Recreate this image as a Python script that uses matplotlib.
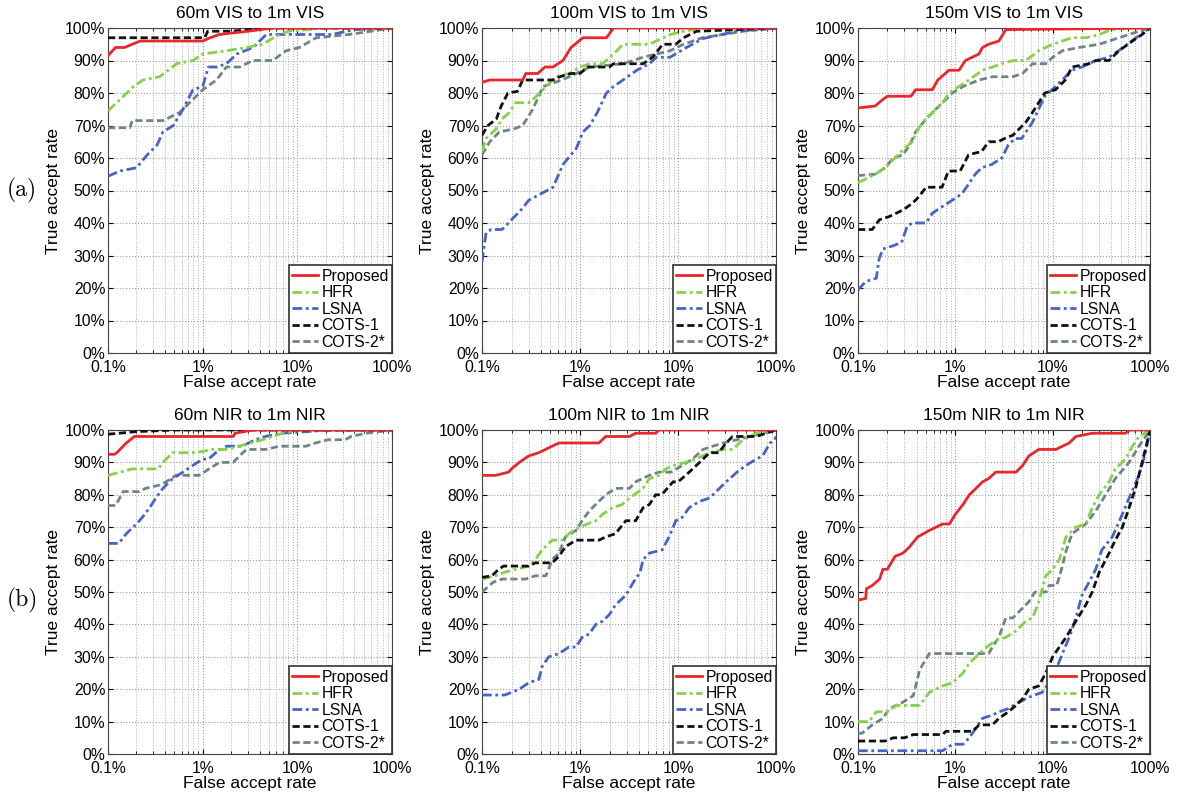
import matplotlib
matplotlib.use("Agg")
import matplotlib.pyplot as plt
from matplotlib.ticker import FixedLocator, LogLocator, NullFormatter

plt.rcParams['font.family'] = ['Liberation Sans', 'DejaVu Sans']

labels = ["Proposed", "HFR", "LSNA", "COTS-1", "COTS-2*"]
titles = ["60m VIS to 1m VIS", "100m VIS to 1m VIS", "150m VIS to 1m VIS",
          "60m NIR to 1m NIR", "100m NIR to 1m NIR", "150m NIR to 1m NIR"]

# ---- 60m VIS (FAR in %, TAR in %)
vis60_prop_x = [0.1, 0.12, 0.15, 0.18, 0.22, 1.0, 1.2, 1.5, 2.1, 3.0, 5.5, 100]
vis60_prop_y = [91.5, 94, 94, 95, 96, 96, 97, 98, 98.5, 99, 100, 100]
vis60_hfr_x = [0.1, 0.134, 0.186, 0.234, 0.35, 0.53, 0.79, 1.0, 1.78, 2.9, 4.3, 6, 8, 20, 100]
vis60_hfr_y = [74.5, 78, 82, 84, 85, 89, 90, 92, 93, 94, 95, 97.5, 99, 100, 100]
vis60_lsna_x = [0.1, 0.134, 0.2, 0.26, 0.33, 0.38, 0.49, 0.62, 0.79, 1.0, 1.15, 1.4, 1.78, 2.3, 3.4, 4.7, 23, 40, 100]
vis60_lsna_y = [54.4, 56, 57, 61, 64, 68, 70, 75, 81, 82, 88, 88, 89, 92, 94, 98, 98, 99.5, 100]
vis60_cots1_x = [0.1, 1.05, 1.13, 2.0, 4.7, 100]
vis60_cots1_y = [97, 97, 99, 99, 100, 100]
vis60_cots2_x = [0.1, 0.17, 0.18, 0.38, 0.57, 0.79, 1.0, 1.4, 1.78, 2.45, 3.4, 5.5, 7.6, 10.5, 15.8, 35, 60, 100]
vis60_cots2_y = [69.3, 69.3, 71.5, 71.5, 74, 78, 81, 84, 88, 88, 90, 90, 93, 94, 97, 98, 99, 100]

# ---- 100m VIS
vis100_prop_x = [0.1, 0.12, 0.26, 0.28, 0.37, 0.44, 0.53, 0.67, 0.81, 1.07, 1.86, 2.2, 100]
vis100_prop_y = [83.3, 84, 84, 86, 86, 88, 88, 90, 94, 97, 97, 100, 100]
vis100_hfr_x = [0.1, 0.11, 0.14, 0.16, 0.19, 0.22, 0.3, 0.36, 0.45, 0.57, 0.78, 1.0, 1.26, 1.7, 2.2, 2.75, 5.1, 6, 8.3, 11.4, 17.8, 100]
vis100_hfr_y = [62, 66, 69, 72, 74, 77, 77, 79, 82, 85, 86, 88, 89, 89, 92, 95, 95, 96, 98, 99, 100, 100]
vis100_lsna_x = [0.1, 0.11, 0.124, 0.16, 0.2, 0.25, 0.3, 0.4, 0.53, 0.67, 0.92, 1.07, 1.26, 1.5, 1.86, 2.2, 2.75, 3.8, 5.1, 6, 8.3, 11.4, 17.8, 25, 40, 100]
vis100_lsna_y = [28, 37, 38, 38, 41, 44, 47, 49, 51, 58, 63, 68, 70, 74, 80, 82, 84, 87, 89, 91, 91, 93.5, 96.7, 97.7, 99, 100]
vis100_cots1_x = [0.1, 0.115, 0.14, 0.157, 0.184, 0.23, 0.26, 0.53, 0.62, 0.81, 1.0, 1.2, 2.0, 2.2, 4.4, 5.5, 7.0, 9.5, 11.4, 15.5, 100]
vis100_cots1_y = [67, 70, 72, 76, 80, 80.5, 84, 84, 85, 86, 86, 88, 88, 89, 89, 91, 95, 95, 97, 99, 100]
vis100_cots2_x = [0.1, 0.12, 0.15, 0.215, 0.26, 0.33, 0.42, 0.53, 0.78, 1.26, 2.75, 4.4, 6, 8.3, 11.4, 17.8, 29, 46, 100]
vis100_cots2_y = [61, 65, 68, 69, 70, 75, 82, 83, 85, 88, 89, 91, 92, 93, 95, 97, 98, 99, 100]

# ---- 150m VIS
vis150_prop_x = [0.1, 0.15, 0.18, 0.2, 0.35, 0.39, 0.58, 0.66, 0.86, 1.09, 1.27, 1.49, 1.75, 1.9, 2.2, 2.8, 3.3, 100]
vis150_prop_y = [75.4, 76, 78, 79, 79, 81, 81, 84, 87, 87, 90, 91, 92, 94, 95, 96, 99.5, 100]
vis150_hfr_x = [0.1, 0.15, 0.19, 0.24, 0.3, 0.36, 0.4, 0.46, 0.58, 0.74, 0.86, 1.09, 1.38, 1.9, 2.4, 3.0, 3.9, 5.3, 7.2, 10, 15.8, 22, 30, 40, 66, 100]
vis150_hfr_y = [52.4, 55, 57, 60, 63, 65, 68, 71, 74, 77, 80, 82, 84, 87, 88, 89, 90, 90, 93, 95, 97, 97, 98, 99.5, 100, 100]
vis150_lsna_x = [0.1, 0.12, 0.154, 0.165, 0.18, 0.23, 0.28, 0.32, 0.36, 0.5, 0.58, 0.73, 0.93, 1.17, 1.37, 1.6, 1.86, 2.36, 3.0, 3.5, 4.1, 4.8, 6.2, 8.3, 10.7, 15.8, 20, 27.7, 38, 53, 72, 100]
vis150_lsna_y = [19.4, 22, 23, 29, 32, 33, 34, 39, 40, 40, 43, 45, 47, 49, 52, 55, 57, 58, 60, 64, 66, 66, 71, 79, 82, 87, 88, 90, 91, 94, 97, 100]
vis150_cots1_x = [0.1, 0.14, 0.166, 0.21, 0.29, 0.36, 0.42, 0.5, 0.73, 0.85, 1.12, 1.37, 1.86, 2.2, 2.75, 3.2, 3.9, 5.3, 6.2, 8.3, 10.7, 13.5, 15.8, 23.6, 27.7, 38, 48, 66, 83, 100]
vis150_cots1_y = [38, 38, 41, 42, 44, 46, 48, 51, 51, 56, 56, 61, 62, 65, 65, 66, 67, 71, 74, 80, 81, 84, 88, 89, 90, 90, 93, 96, 98, 100]
vis150_cots2_x = [0.1, 0.15, 0.19, 0.23, 0.29, 0.34, 0.39, 0.5, 0.63, 0.8, 0.93, 1.2, 1.75, 2.4, 3.9, 4.9, 6.2, 8.5, 10, 12.6, 18.6, 30, 48, 77, 100]
vis150_cots2_y = [54.6, 55, 57, 60, 61, 64, 68, 72, 75, 78, 80, 82, 84, 85, 85, 86, 89, 89, 91, 93, 94, 95, 97, 99, 100]

# ---- 60m NIR
nir60_prop_x = [0.1, 0.117, 0.124, 0.156, 0.19, 2.1, 2.2, 3.4, 100]
nir60_prop_y = [92.5, 92.5, 93, 96, 98, 98, 99, 100, 100]
nir60_hfr_x = [0.1, 0.18, 0.34, 0.38, 0.48, 0.85, 1.27, 1.76, 2.4, 4.3, 5.5, 6.9, 10.5, 100]
nir60_hfr_y = [86, 88, 88, 90, 93, 93, 94, 94, 95, 97, 98, 99, 100, 100]
nir60_lsna_x = [0.1, 0.13, 0.156, 0.2, 0.23, 0.275, 0.32, 0.38, 0.48, 0.62, 0.78, 1.0, 1.15, 1.38, 1.78, 2.6, 3.6, 4.6, 6.9, 23, 100]
nir60_lsna_y = [65, 65, 68, 71, 73, 76, 79, 82, 85, 87, 89, 91, 91, 93, 95, 95, 97, 98, 99, 100, 100]
nir60_cots1_x = [0.1, 0.13, 0.2, 0.5, 100]
nir60_cots1_y = [98.7, 99, 99.5, 100, 100]
nir60_cots2_x = [0.1, 0.12, 0.145, 0.215, 0.25, 0.35, 0.41, 0.52, 0.92, 1.17, 1.5, 2.1, 2.45, 2.9, 4.6, 6.5, 12.3, 15.6, 21, 32, 37, 53, 100]
nir60_cots2_y = [76.7, 76.7, 81, 81, 82, 83, 84, 86, 86, 88, 90, 90, 92, 94, 94, 95, 95, 96, 97, 97, 98, 99, 100]

# ---- 100m NIR
nir100_prop_x = [0.1, 0.137, 0.187, 0.2, 0.24, 0.3, 0.38, 0.52, 0.61, 1.56, 1.83, 3.2, 3.7, 5.9, 6.4, 100]
nir100_prop_y = [86, 86, 87, 88, 90, 92, 93, 95, 96, 96, 98, 98, 99, 99, 100, 100]
nir100_hfr_x = [0.1, 0.137, 0.166, 0.22, 0.3, 0.35, 0.41, 0.52, 0.66, 0.77, 0.98, 1.45, 1.7, 2.14, 2.7, 3.2, 4.4, 5.1, 6.4, 7.5, 8.9, 12, 15, 21, 29, 36, 46, 63, 100]
nir100_hfr_y = [54, 55, 56, 57, 58, 60, 63, 66, 66, 68, 70, 72, 74, 76, 77, 79, 82, 85, 86, 88, 89, 90, 91, 93, 94, 94, 97, 99, 100]
nir100_lsna_x = [0.1, 0.17, 0.2, 0.24, 0.3, 0.38, 0.41, 0.48, 0.61, 0.77, 0.91, 1.05, 1.24, 1.45, 1.7, 1.99, 2.3, 2.94, 3.5, 4.1, 4.4, 5.1, 6.9, 8.1, 9.5, 11, 13, 16.6, 21, 24.5, 31, 40, 49, 63, 73, 87, 97, 100]
nir100_lsna_y = [18.2, 18.2, 19, 20, 22, 23, 27, 30, 31, 33, 33, 36, 37, 40, 41, 43, 46, 49, 53, 56, 60, 62, 63, 67, 72, 73, 76, 78, 79, 81, 84, 87, 89, 91, 92, 96, 97, 98]
nir100_cots1_x = [0.1, 0.126, 0.148, 0.166, 0.3, 0.35, 0.52, 0.61, 0.71, 0.91, 1.56, 1.83, 2.3, 2.94, 3.7, 4.4, 5.1, 5.9, 6.8, 8.9, 10, 12, 16.6, 21, 26, 31, 36, 63, 79, 100]
nir100_cots1_y = [54.5, 55, 57, 58, 58, 59, 59, 61, 64, 66, 66, 67, 68, 72, 72, 76, 77, 80, 80, 84, 84, 86, 90, 93, 93, 96, 98, 98, 99, 100]
nir100_cots2_x = [0.1, 0.13, 0.16, 0.28, 0.35, 0.45, 0.52, 0.61, 0.71, 0.91, 1.05, 1.24, 1.56, 1.83, 2.3, 3.2, 3.7, 5.1, 6.4, 8.5, 11, 14, 18, 22.6, 29, 40, 54, 73, 100]
nir100_cots2_y = [50, 53, 54, 54, 55, 55, 60, 62, 67, 69, 72, 75, 78, 80, 82, 82, 84, 86, 87, 87, 89, 91, 94, 95, 96, 97, 98, 99, 100]

# ---- 150m NIR
nir150_prop_x = [0.1, 0.12, 0.122, 0.14, 0.167, 0.18, 0.2, 0.24, 0.29, 0.34, 0.41, 0.54, 0.74, 0.87, 1.0, 1.2, 1.39, 1.63, 1.9, 2.2, 2.6, 4.2, 4.9, 5.7, 7.2, 10.8, 12.6, 14.8, 17.3, 25.5, 56, 62, 100]
nir150_prop_y = [47.5, 48, 51, 52, 54, 57, 57, 61, 62, 64, 67, 69, 71, 71, 74, 77, 80, 82, 84, 85, 87, 87, 89, 92, 94, 94, 95, 96, 98, 99, 99, 100, 100]
nir150_hfr_x = [0.1, 0.13, 0.154, 0.195, 0.25, 0.43, 0.54, 0.74, 0.94, 1.2, 1.39, 1.76, 2.1, 2.6, 3.3, 4.2, 5.3, 6.2, 7.2, 8.5, 10, 11.7, 13.7, 17.3, 21.9, 25.5, 30, 38, 44, 56, 66, 77, 100]
nir150_hfr_y = [10, 10, 13, 13, 15, 15, 19, 21, 22, 25, 28, 31, 33, 35, 36, 38, 41, 42, 47, 55, 57, 60, 67, 70, 71, 76, 80, 84, 88, 91, 95, 98, 100]
nir150_lsna_x = [0.1, 0.74, 0.83, 0.94, 1.2, 1.39, 1.63, 1.9, 2.4, 2.8, 3.5, 4.5, 6.2, 7.8, 9.2, 10.8, 12.6, 14.8, 17.3, 20, 23.6, 27.7, 32, 41, 52, 61, 77, 90, 100]
nir150_lsna_y = [1, 1, 2, 3, 3, 5, 8, 11, 12, 13, 14, 16, 18, 19, 22, 26, 31, 36, 42, 49, 53, 57, 63, 67, 74, 79, 86, 93, 100]
nir150_cots1_x = [0.1, 0.19, 0.23, 0.3, 0.37, 0.74, 0.8, 1.5, 1.76, 2.4, 2.8, 3.5, 4.2, 4.9, 5.7, 7.2, 8.5, 10, 11.7, 13.7, 17.3, 21.9, 25.5, 30, 38, 44, 52, 61, 71, 83, 93, 100]
nir150_cots1_y = [4, 4, 5, 5, 6, 6, 7, 7, 9, 9, 11, 13, 15, 17, 20, 21, 25, 30, 33, 36, 41, 46, 50, 56, 62, 66, 70, 76, 82, 90, 96, 100]
nir150_cots2_x = [0.1, 0.11, 0.14, 0.18, 0.21, 0.29, 0.37, 0.43, 0.54, 2.2, 2.4, 2.8, 3.3, 3.9, 4.9, 5.7, 6.6, 8.5, 9.2, 11, 12.6, 13.5, 15.8, 21.9, 27.7, 35, 44, 61, 77, 100]
nir150_cots2_y = [6.4, 6.4, 9, 11, 14, 16, 18, 26, 31, 31, 33, 36, 42, 42, 45, 47, 50, 50, 52, 52, 58, 62, 68, 71, 75, 80, 85, 90, 95, 100]

panels = [
    [(vis60_prop_x, vis60_prop_y), (vis60_hfr_x, vis60_hfr_y), (vis60_lsna_x, vis60_lsna_y),
     (vis60_cots1_x, vis60_cots1_y), (vis60_cots2_x, vis60_cots2_y)],
    [(vis100_prop_x, vis100_prop_y), (vis100_hfr_x, vis100_hfr_y), (vis100_lsna_x, vis100_lsna_y),
     (vis100_cots1_x, vis100_cots1_y), (vis100_cots2_x, vis100_cots2_y)],
    [(vis150_prop_x, vis150_prop_y), (vis150_hfr_x, vis150_hfr_y), (vis150_lsna_x, vis150_lsna_y),
     (vis150_cots1_x, vis150_cots1_y), (vis150_cots2_x, vis150_cots2_y)],
    [(nir60_prop_x, nir60_prop_y), (nir60_hfr_x, nir60_hfr_y), (nir60_lsna_x, nir60_lsna_y),
     (nir60_cots1_x, nir60_cots1_y), (nir60_cots2_x, nir60_cots2_y)],
    [(nir100_prop_x, nir100_prop_y), (nir100_hfr_x, nir100_hfr_y), (nir100_lsna_x, nir100_lsna_y),
     (nir100_cots1_x, nir100_cots1_y), (nir100_cots2_x, nir100_cots2_y)],
    [(nir150_prop_x, nir150_prop_y), (nir150_hfr_x, nir150_hfr_y), (nir150_lsna_x, nir150_lsna_y),
     (nir150_cots1_x, nir150_cots1_y), (nir150_cots2_x, nir150_cots2_y)],
]

colors = ["#e8262b", "#86d14a", "#4764c4", "#111111", "#6f8585"]
styles = ["-", (0, (3.5, 1.3, 1, 1.3)), (0, (3.5, 1.3, 1, 1.3)), (0, (2.6, 1.3)), (0, (2.6, 1.3))]
zorders = [7, 5, 4, 6, 3]

# axes boxes in pixels: left, top, right, bottom
W, H = 1184, 792
col_x = [(108, 392), (482, 776), (858, 1150)]
row_y = [(28, 353), (430, 754)]

fig = plt.figure(figsize=(W / 100, H / 100), dpi=100)

for i, curves in enumerate(panels):
    r, c = divmod(i, 3)
    x0, x1 = col_x[c]
    y0, y1 = row_y[r]
    ax = fig.add_axes([x0 / W, 1 - y1 / H, (x1 - x0) / W, (y1 - y0) / H])
    for k, (xs, ys) in enumerate(curves):
        ax.plot(xs, ys, color=colors[k], linestyle=styles[k], lw=2.0,
                label=labels[k], zorder=zorders[k])
    ax.set_xscale("log")
    ax.set_xlim(0.1, 100)
    ax.set_ylim(0, 100)
    ax.xaxis.set_major_locator(FixedLocator([0.1, 1, 10, 100]))
    ax.set_xticklabels(["0.1%", "1%", "10%", "100%"])
    ax.xaxis.set_minor_locator(LogLocator(base=10, subs=range(2, 10)))
    ax.xaxis.set_minor_formatter(NullFormatter())
    ax.set_yticks(range(0, 101, 10))
    ax.set_yticklabels([f"{v}%" for v in range(0, 101, 10)])
    ax.grid(True, which="major", linestyle=":", color="#9a9a9a", lw=0.8)
    ax.grid(True, which="minor", axis="x", linestyle=":", color="#b0b0b0", lw=0.7)
    ax.tick_params(which="both", direction="in", top=True, right=True, labelsize=11.3)
    ax.tick_params(axis="y", pad=2)
    ax.tick_params(axis="x", pad=5)
    ax.tick_params(which="minor", length=2)
    for s in ax.spines.values():
        s.set_color("#444444")
    ax.set_title(titles[i], fontsize=12.5, pad=7)
    ax.set_xlabel("False accept rate", fontsize=12.5, labelpad=0)
    ax.set_ylabel("True accept rate", fontsize=12.5, labelpad=3)
    leg = ax.legend(loc="lower right", fontsize=11.3, borderaxespad=0, fancybox=False,
                    edgecolor="#333333", framealpha=1, borderpad=0.2, labelspacing=0.1,
                    handlelength=1.7, handletextpad=0.2)
    leg.get_frame().set_linewidth(1.2)
    leg.set_zorder(10)

fig.text(22 / W, 1 - 190 / H, "(a)", family="cmr10", fontsize=17, ha="center", va="center")
fig.text(22 / W, 1 - 600 / H, "(b)", family="cmr10", fontsize=17, ha="center", va="center")

fig.savefig("out.png", dpi=100)
